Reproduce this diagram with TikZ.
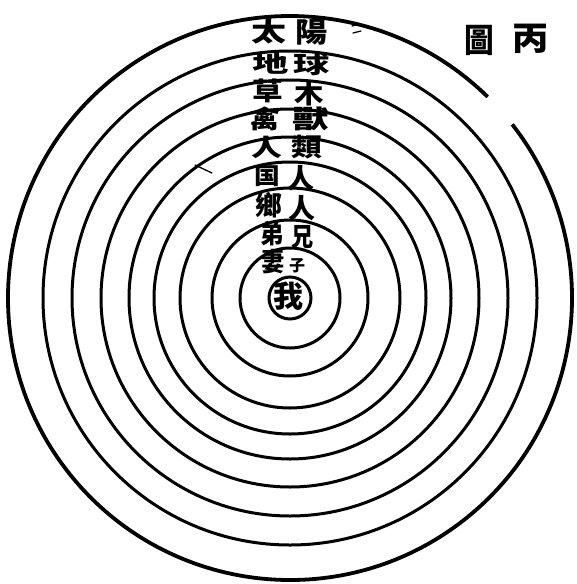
\documentclass[tikz,border=0pt]{standalone}
\usepackage{fontspec}
\usepackage{graphicx}
\usetikzlibrary{calc}
\newfontfamily\cjk{Noto Sans CJK TC}
\newcommand{\sq}[3]{\scalebox{#1}[#2]{#3}}
\begin{document}
\begin{tikzpicture}[x=1pt,y=-1pt,
  ring/.style={draw=black, line width=3pt},
  outerring/.style={draw=black, line width=3.8pt},
  chbig/.style={font=\cjk\bfseries\fontsize{28}{28}\selectfont, inner sep=0pt},
  chrow/.style={font=\cjk\bfseries\fontsize{27}{27}\selectfont, inner sep=0pt},
  chmid/.style={font=\cjk\bfseries\fontsize{26}{26}\selectfont, inner sep=0pt},
  chsmall/.style={font=\cjk\bfseries\fontsize{16}{16}\selectfont, inner sep=0pt},
  chme/.style={font=\cjk\bfseries\fontsize{30}{30}\selectfont, inner sep=0pt},
  chlabel/.style={font=\cjk\bfseries\fontsize{33}{33}\selectfont, inner sep=0pt},
  straymark/.style={draw=black, line width=1.3pt, line cap=round}]
\useasboundingbox (0,0) rectangle (577,584);
\fill[white] (0,0) rectangle (577,584);
\coordinate (c) at (290,298);
% outer ring with a gap at upper right
\draw[outerring] ($(c)+(-38:282)$) arc[start angle=-38, end angle=314.5, radius=282];
\foreach \r in {247,218,189,161,136,110,78,50,21}
  \draw[ring] (c) circle[radius=\r];
% labels in the bands
\node[chbig] (t1a) at (269,31) {\sq{1.25}{0.95}{太}};
\node[chbig] (t1b) at (312,32) {\sq{1.15}{1}{陽}};
\node[chbig] (t2a) at (271,63) {\sq{1.3}{0.85}{地}};
\node[chbig] (t2b) at (312,64) {\sq{1.3}{0.85}{球}};
\node[chbig] (t3a) at (268,91) {\sq{1.1}{0.9}{草}};
\node[chbig] (t3b) at (309,93) {\sq{1.05}{0.95}{木}};
\node[chbig] (t4a) at (265,119) {\sq{1.1}{0.9}{禽}};
\node[chbig] (t4b) at (311,119) {\sq{1.3}{0.9}{獸}};
\node[chbig] (t5a) at (267,147) {\sq{1.1}{0.85}{人}};
\node[chbig] (t5b) at (307,147) {\sq{1.1}{0.9}{類}};
\node[chrow] (t6a) at (267,176) {\sq{0.95}{0.85}{国}};
\node[chrow] (t6b) at (301,178) {人};
\node[chrow] (t7a) at (269,205) {鄉};
\node[chrow] (t7b) at (302,208) {人};
\node[chmid] (t8a) at (272,234) {\sq{0.9}{1}{弟}};
\node[chmid] (t8b) at (303,237) {\sq{0.85}{1}{兄}};
\node[chmid] (t9a) at (273,262) {\sq{0.9}{1}{妻}};
\node[chsmall] (t9b) at (297,266) {子};
\node[chme] (me) at (288,296) {我};
% title
\node[chlabel] (l1) at (479,40) {\sq{0.9}{1}{圖}};
\node[chlabel] (l2) at (531,39) {\sq{1.1}{1}{丙}};
% small stray marks
\draw[straymark] (195,165) -- (212,173);
\draw[straymark] (352,26) -- (360,24);
\draw[straymark] (353,33) -- (361,31);
\end{tikzpicture}
\end{document}
